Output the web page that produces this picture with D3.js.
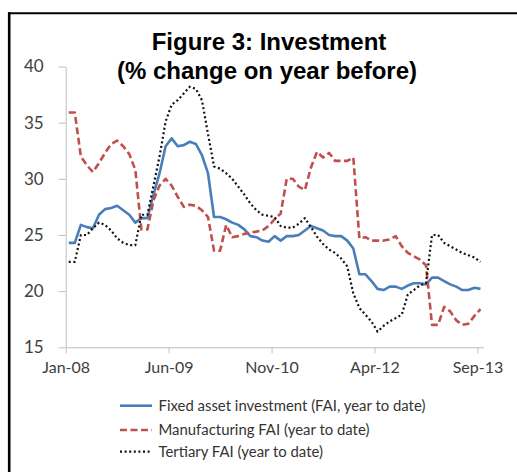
<!DOCTYPE html>
<html lang="en">
<head>
<meta charset="UTF-8">
<title>Figure 3: Investment</title>
<style>
  body { margin: 0; background: #fff; }
  svg { display: block; }
  .axis text { font-family: Lato, sans-serif; fill: #404040; }
  .legend text { font-family: Lato, sans-serif; fill: #333; }
  .title { font-family: "Liberation Sans", Arial, sans-serif; font-weight: bold; font-size: 24px; fill: #000; }
</style>
</head>
<body>
<svg id="chart"></svg>
<script src="https://cdn.jsdelivr.net/npm/d3@7/dist/d3.min.js"></script>
<script>
// monthly categories Jan-08 .. Sep-13
const months = d3.timeMonth.range(new Date(2008, 0, 1), new Date(2013, 9, 1));
const tickLabels = ["Jan-08", "Jun-09", "Nov-10", "Apr-12", "Sep-13"];
const yTicks = [15, 20, 25, 30, 35, 40];

// Fixed asset investment (FAI, year to date)
const faiTotal = [
  24.3, 24.3, 25.9, 25.7, 25.6, 26.8, 27.3, 27.4, 27.6, 27.2, 26.8, 26.1,
  26.5, 26.5, 28.6, 30.5, 32.9, 33.6, 32.9, 33.0, 33.3, 33.1, 32.1, 30.5,
  26.6, 26.6, 26.4, 26.1, 25.9, 25.5, 24.9, 24.8, 24.5, 24.4, 24.9, 24.5,
  24.9, 24.9, 25.0, 25.4, 25.8, 25.6, 25.4, 25.0, 24.9, 24.9, 24.5, 23.8,
  21.5, 21.5, 20.9, 20.2, 20.1, 20.4, 20.4, 20.2, 20.5, 20.7, 20.7, 20.6,
  21.2, 21.2, 20.9, 20.6, 20.4, 20.1, 20.1, 20.3, 20.2
];

// Manufacturing FAI (year to date)
const faiManufacturing = [
  35.9, 35.9, 32.0, 31.2, 30.6, 31.4, 32.3, 33.1, 33.4, 32.9, 32.2, 30.8,
  25.5, 25.5, 28.1, 29.4, 30.0, 29.4, 28.4, 27.5, 27.7, 27.6, 27.2, 26.6,
  23.6, 23.6, 25.9, 24.8, 24.9, 25.1, 25.2, 25.3, 25.4, 25.8, 26.4, 26.9,
  30.0, 30.0, 29.3, 29.0, 31.0, 32.4, 31.9, 32.3, 31.6, 31.6, 31.6, 31.9,
  24.7, 24.8, 24.5, 24.5, 24.5, 24.6, 24.9, 24.0, 23.4, 23.1, 22.8, 22.3,
  17.0, 17.0, 18.6, 18.2, 17.4, 17.0, 17.1, 17.8, 18.4
];

// Tertiary FAI (year to date)
const faiTertiary = [
  22.6, 22.6, 25.0, 25.0, 25.6, 26.1, 25.9, 25.4, 24.7, 24.3, 24.1, 24.1,
  26.8, 26.8, 29.4, 32.0, 35.1, 36.6, 37.0, 37.6, 38.2, 38.0, 37.0, 34.0,
  31.1, 30.9, 30.5, 30.0, 29.3, 28.6, 27.8, 27.2, 26.8, 26.7, 26.6, 25.8,
  25.65, 25.65, 26.0, 26.5, 25.7, 24.85, 24.2, 23.7, 23.4, 22.9, 22.2, 19.8,
  18.5, 17.9, 17.3, 16.4, 16.9, 17.3, 17.6, 17.9, 19.7, 20.1, 20.5, 20.7,
  25.0, 25.0, 24.3, 24.0, 23.7, 23.4, 23.2, 23.0, 22.6
];

const seriesNames = [
  "Fixed asset investment (FAI, year to date)",
  "Manufacturing FAI (year to date)",
  "Tertiary FAI (year to date)"
];

const W = 517, H = 472;
const plot = { left: 65.7, right: 483.5, top: 66.5, bottom: 347.3 };

const svg = d3.select("#chart").attr("width", W).attr("height", H);

// frame (only top and left edges visible in the crop)
svg.append("line").attr("x1", 8).attr("x2", W).attr("y1", 13.3).attr("y2", 13.3)
  .attr("stroke", "#000").attr("stroke-width", 2);
svg.append("line").attr("x1", 9.2).attr("x2", 9.2).attr("y1", 12.3).attr("y2", H)
  .attr("stroke", "#000").attr("stroke-width", 2.6);

// title
svg.append("text").attr("class", "title").attr("x", 269).attr("y", 50)
  .attr("text-anchor", "middle").text("Figure 3: Investment");
svg.append("text").attr("class", "title").attr("x", 267).attr("y", 79)
  .attr("text-anchor", "middle").text("(% change on year before)");

// scales: one slot per month, points in the middle of each slot
const x = d3.scaleLinear().domain([0, months.length]).range([plot.left, plot.right]);
const y = d3.scaleLinear().domain([15, 40]).range([plot.bottom, plot.top]);
const fmt = d3.timeFormat("%b-%y");

const xTickIdx = months.map((d, i) => i).filter(i => tickLabels.includes(fmt(months[i])));

const xAxis = svg.append("g").attr("class", "axis")
  .attr("transform", `translate(0,${plot.bottom})`)
  .call(d3.axisBottom(x).tickValues(xTickIdx).tickFormat(i => fmt(months[i]))
    .tickSize(6).tickSizeOuter(0));
xAxis.select(".domain").attr("stroke", "#bfbfbf");
xAxis.selectAll(".tick line").attr("stroke", "#bfbfbf");
xAxis.selectAll(".tick text").attr("font-size", 16).attr("y", 14);

const yAxis = svg.append("g").attr("class", "axis")
  .attr("transform", `translate(${plot.left},0)`)
  .call(d3.axisLeft(y).tickValues(yTicks).tickSize(7).tickSizeOuter(0).tickPadding(15));
yAxis.select(".domain").attr("stroke", "#bfbfbf");
yAxis.selectAll(".tick line").attr("stroke", "#bfbfbf");
yAxis.selectAll(".tick text").attr("font-size", 17);

// lines
const line = d3.line().x((d, i) => x(i + 0.5)).y(d => y(d));

const styles = [
  { data: faiTotal, color: "#4a7ebb", width: 2.6, dash: null },
  { data: faiManufacturing, color: "#c0504d", width: 2.6, dash: "7,3.5" },
  { data: faiTertiary, color: "#111", width: 2.2, dash: "2,2.6" }
];

styles.forEach(s => {
  svg.append("path").datum(s.data)
    .attr("fill", "none")
    .attr("stroke", s.color)
    .attr("stroke-width", s.width)
    .attr("stroke-dasharray", s.dash)
    .attr("stroke-linejoin", "round")
    .attr("d", line);
});

// legend
const legend = svg.append("g").attr("class", "legend");
const legendRows = [405.7, 430, 451.7];
styles.forEach((s, i) => {
  legend.append("line")
    .attr("x1", 120).attr("x2", 152)
    .attr("y1", legendRows[i]).attr("y2", legendRows[i])
    .attr("stroke", s.color).attr("stroke-width", s.width)
    .attr("stroke-dasharray", s.dash);
  legend.append("text")
    .attr("x", 158.5).attr("y", legendRows[i] + 5)
    .attr("font-size", 14.9)
    .text(seriesNames[i]);
});
</script>
</body>
</html>
